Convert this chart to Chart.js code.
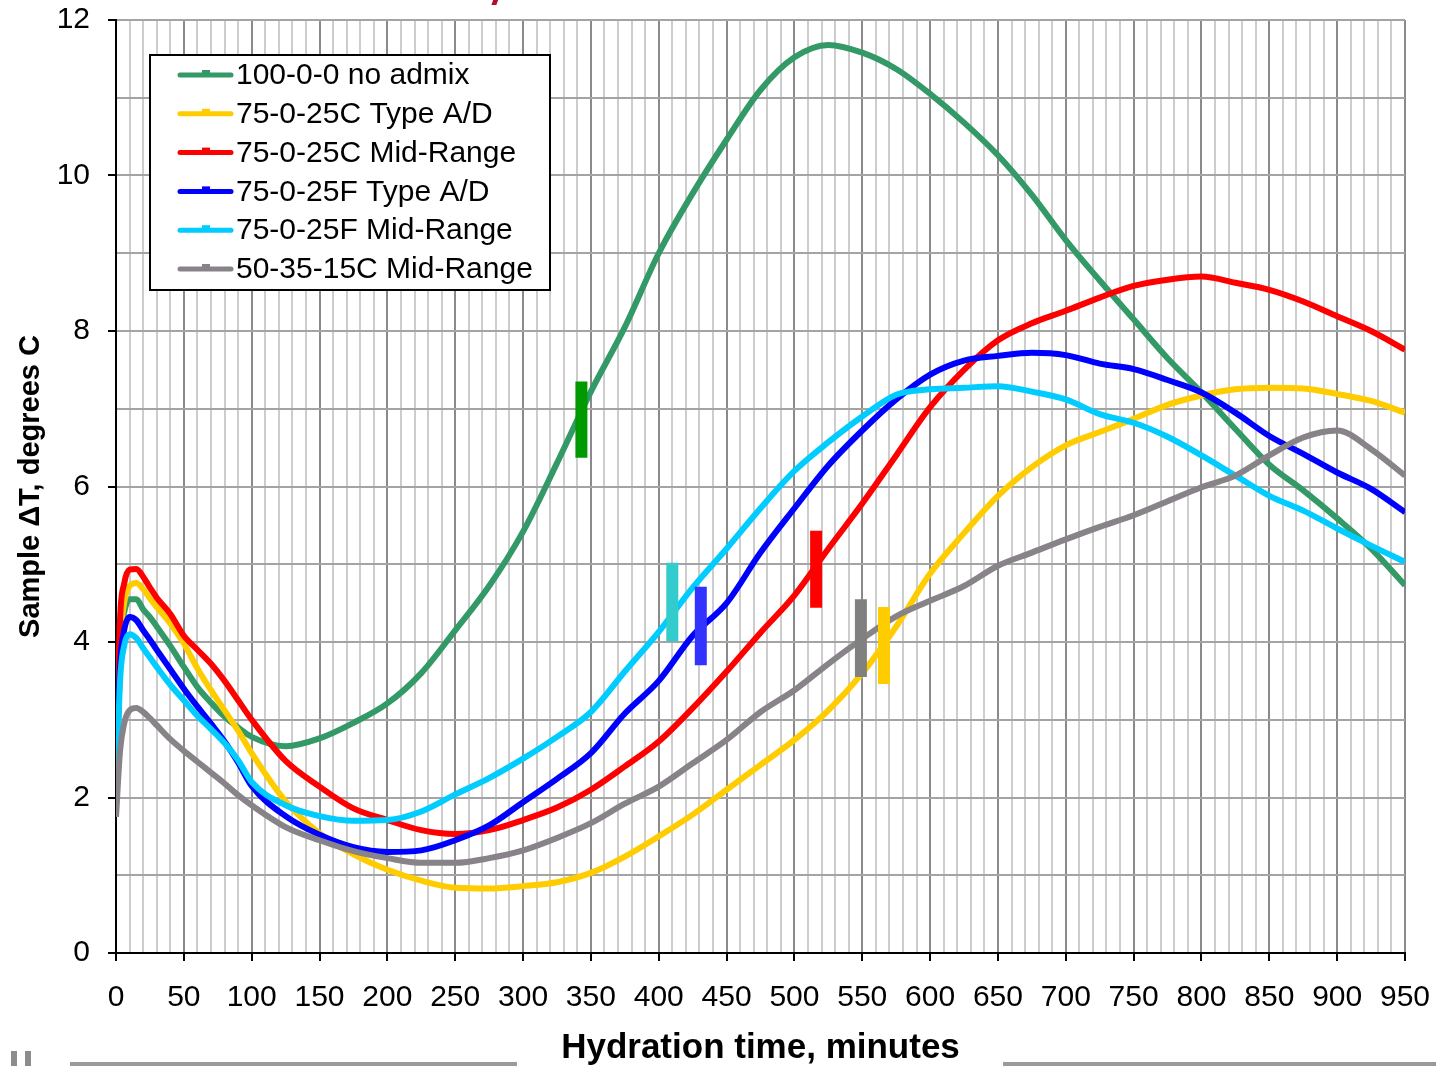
<!DOCTYPE html>
<html>
<head>
<meta charset="utf-8">
<title>Hydration temperature rise</title>
<script src="https://cdn.jsdelivr.net/npm/chart.js@4.4.1/dist/chart.umd.min.js"></script>
<style>
  html, body { margin: 0; padding: 0; background: #ffffff; }
  #wrap { position: relative; width: 1436px; height: 1066px; overflow: hidden; }
  #c { position: absolute; left: 0; top: 0; }
  .rule { position: absolute; top: 1062px; height: 4px; background: #9a9a9a; }
  .stub { position: absolute; top: 1051px; height: 15px; width: 6px; background: #8c8c8c; }
  .tick-mark { position: absolute; left: 493px; top: -4px; width: 5px; height: 9px; background: #b0102a; transform: skewX(-20deg); }
</style>
</head>
<body>
<div id="wrap">
  <canvas id="c" width="1436" height="1066"></canvas>
  <div class="tick-mark"></div>
  <div class="stub" style="left:11px"></div>
  <div class="stub" style="left:25px"></div>
  <div class="rule" style="left:70px; width:447px"></div>
  <div class="rule" style="left:1003px; width:433px"></div>
</div>
<script>
// Hydration time, minutes (shared sampling grid for every mix)
const minutes = [0, 3, 6, 10, 15, 20, 25, 30, 40, 50, 60, 70, 80, 90, 100,
  125, 150, 175, 200, 225, 250, 275, 300, 325, 350, 375, 400, 425, 450, 475, 500,
  525, 550, 575, 600, 625, 650, 675, 700, 725, 750, 775, 800, 825, 850, 875, 900, 925, 950];

// Sample temperature rise, degrees C
const noAdmix = [3.2, 4.0, 4.38, 4.55, 4.55, 4.42, 4.32, 4.2, 3.95, 3.68, 3.42, 3.22, 3.04, 2.9, 2.78,
  2.66, 2.76, 2.96, 3.21, 3.6, 4.15, 4.72, 5.42, 6.3, 7.22, 8.05, 9.0, 9.77, 10.46, 11.1, 11.52,
  11.68, 11.58, 11.37, 11.05, 10.68, 10.26, 9.75, 9.17, 8.65, 8.15, 7.65, 7.21, 6.74, 6.28, 5.95, 5.59, 5.2, 4.73];
const mixC_typeAD = [1.8, 3.9, 4.5, 4.72, 4.76, 4.68, 4.56, 4.45, 4.24, 3.98, 3.66, 3.38, 3.12, 2.86, 2.57,
  1.95, 1.54, 1.27, 1.07, 0.93, 0.84, 0.83, 0.86, 0.91, 1.03, 1.24, 1.5, 1.78, 2.1, 2.42, 2.74,
  3.12, 3.6, 4.2, 4.88, 5.4, 5.88, 6.25, 6.53, 6.7, 6.87, 7.05, 7.17, 7.25, 7.27, 7.26, 7.19, 7.1, 6.95];
const mixC_midRange = [2.3, 4.3, 4.75, 4.93, 4.94, 4.84, 4.7, 4.57, 4.36, 4.08, 3.9, 3.72, 3.5, 3.25, 3.0,
  2.47, 2.14, 1.86, 1.71, 1.58, 1.53, 1.58, 1.71, 1.87, 2.1, 2.4, 2.72, 3.15, 3.62, 4.12, 4.6,
  5.2, 5.78, 6.4, 7.02, 7.5, 7.88, 8.1, 8.26, 8.43, 8.58, 8.66, 8.7, 8.62, 8.53, 8.38, 8.19, 8.0, 7.76];
const mixF_typeAD = [2.1, 3.7, 4.15, 4.32, 4.28, 4.15, 4.03, 3.9, 3.65, 3.4, 3.17, 2.95, 2.72, 2.45, 2.15,
  1.76, 1.52, 1.36, 1.3, 1.32, 1.45, 1.64, 1.94, 2.24, 2.57, 3.08, 3.5, 4.08, 4.5, 5.15, 5.72,
  6.27, 6.72, 7.12, 7.44, 7.62, 7.68, 7.72, 7.69, 7.58, 7.51, 7.37, 7.21, 6.95, 6.65, 6.42, 6.18, 5.97, 5.67];
const mixF_midRange = [1.9, 3.5, 3.95, 4.1, 4.05, 3.92, 3.8, 3.68, 3.45, 3.25, 3.05, 2.88, 2.7, 2.48, 2.2,
  1.9, 1.76, 1.7, 1.71, 1.82, 2.04, 2.25, 2.5, 2.78, 3.1, 3.62, 4.13, 4.7, 5.2, 5.72, 6.2,
  6.57, 6.9, 7.18, 7.25, 7.27, 7.29, 7.22, 7.12, 6.93, 6.82, 6.64, 6.4, 6.14, 5.88, 5.69, 5.46, 5.24, 5.03];
const ternary_midRange = [1.75, 2.6, 2.95, 3.12, 3.15, 3.1, 3.02, 2.93, 2.75, 2.6, 2.46, 2.32, 2.18, 2.03, 1.9,
  1.62, 1.45, 1.31, 1.22, 1.16, 1.16, 1.22, 1.32, 1.48, 1.67, 1.92, 2.14, 2.44, 2.74, 3.1, 3.38,
  3.72, 4.04, 4.33, 4.53, 4.72, 4.98, 5.15, 5.32, 5.48, 5.63, 5.81, 5.99, 6.14, 6.4, 6.63, 6.72, 6.48, 6.14];

const seriesNames = ['100-0-0 no admix', '75-0-25C Type A/D', '75-0-25C Mid-Range',
  '75-0-25F Type A/D', '75-0-25F Mid-Range', '50-35-15C Mid-Range'];
const seriesValues = [noAdmix, mixC_typeAD, mixC_midRange, mixF_typeAD, mixF_midRange, ternary_midRange];

// Set-time bars: minute and the span of degrees each bar covers
const setTimeMinutes = [343, 410, 431, 516, 549, 566];
const setTimeLow = [6.37, 4.01, 3.70, 4.44, 3.55, 3.46];
const setTimeHigh = [7.35, 5.02, 4.71, 5.43, 4.55, 4.45];

// Axis tick labels
const xTickLabels = [0, 50, 100, 150, 200, 250, 300, 350, 400, 450, 500, 550, 600, 650, 700, 750, 800, 850, 900, 950];
const yTickLabels = [0, 2, 4, 6, 8, 10, 12];

const seriesColors = ['#339966', '#FFCC00', '#FF0000', '#0000FF', '#00CCFF', '#878388'];
const barColors = ['#009900', '#33CCCC', '#3333FF', '#FF0000', '#808080', '#FFCC00'];

const FONT = '"Liberation Sans", Arial, Helvetica, sans-serif';

const datasets = [];
seriesValues.forEach((vals, i) => {
  datasets.push({
    label: seriesNames[i],
    data: minutes.map((m, k) => ({ x: m, y: vals[k] })),
    borderColor: seriesColors[i],
    backgroundColor: seriesColors[i],
    borderWidth: 6,
    pointRadius: 0,
    cubicInterpolationMode: 'monotone',
    fill: false,
    order: 10 - i
  });
});
setTimeMinutes.forEach((m, i) => {
  datasets.push({
    label: 'set-' + i,
    data: [{ x: m, y: setTimeLow[i] }, { x: m, y: setTimeHigh[i] }],
    borderColor: barColors[i],
    borderWidth: 12,
    borderCapStyle: 'butt',
    pointRadius: 0,
    fill: false,
    order: 0
  });
});

// Boxed legend drawn inside the plot area
const insetLegend = {
  id: 'insetLegend',
  afterDatasetsDraw(chart) {
    const ctx = chart.ctx;
    ctx.save();
    ctx.fillStyle = '#ffffff';
    ctx.fillRect(150, 55, 400, 235);
    ctx.lineWidth = 2;
    ctx.strokeStyle = '#000000';
    ctx.strokeRect(150, 55, 400, 235);
    ctx.font = '30px ' + FONT;
    ctx.textBaseline = 'middle';
    ctx.textAlign = 'left';
    seriesNames.forEach((name, i) => {
      const cy = 75 + i * 38.8;
      ctx.strokeStyle = seriesColors[i];
      ctx.lineWidth = 5;
      ctx.lineCap = 'round';
      ctx.beginPath();
      ctx.moveTo(180, cy);
      ctx.lineTo(231, cy);
      ctx.stroke();
      ctx.fillStyle = seriesColors[i];
      ctx.fillRect(202, cy - 5, 8, 4);
      ctx.fillStyle = '#000000';
      ctx.fillText(name, 236, cy + 1);
    });
    ctx.restore();
  }
};

new Chart(document.getElementById('c'), {
  type: 'line',
  data: { datasets },
  plugins: [insetLegend],
  options: {
    responsive: false,
    animation: false,
    devicePixelRatio: 1,
    layout: { padding: { top: 20, right: 31, left: 0, bottom: 0 } },
    plugins: { legend: { display: false }, tooltip: { enabled: false } },
    scales: {
      x: {
        type: 'linear',
        min: 0,
        max: 950,
        afterFit(scale) {
          scale.height = 113;
          scale.paddingLeft = 0;
          scale.paddingRight = 0;
        },
        ticks: {
          stepSize: 10,
          autoSkip: false,
          maxRotation: 0,
          minRotation: 0,
          padding: 19,
          color: '#000000',
          font: { family: FONT, size: 30 },
          callback: (v) => (xTickLabels.includes(v) ? String(v) : '')
        },
        grid: {
          color: (c) => (c.tick && c.tick.value % 50 === 0 ? '#8a8a8a' : '#cdcdcd'),
          lineWidth: 2,
          tickLength: 8,
          tickWidth: 2,
          tickColor: (c) => (c.tick && c.tick.value % 50 === 0 ? '#000000' : 'rgba(0,0,0,0)')
        },
        border: { display: true, color: '#000000', width: 2 },
        title: {
          display: true,
          text: 'Hydration time, minutes',
          color: '#000000',
          font: { family: FONT, size: 35, weight: 'bold', lineHeight: 1 },
          padding: { top: 0, bottom: 0 }
        }
      },
      y: {
        min: 0,
        max: 12,
        afterFit(scale) {
          scale.width = 116;
          scale.paddingTop = 0;
          scale.paddingBottom = 0;
        },
        ticks: {
          stepSize: 1,
          padding: 18,
          color: '#000000',
          font: { family: FONT, size: 30 },
          callback: (v) => (yTickLabels.includes(v) ? String(v) : '')
        },
        grid: {
          color: '#a4a4a4',
          lineWidth: 2,
          tickLength: 8,
          tickWidth: 2,
          tickColor: (c) => (c.tick && c.tick.value % 2 === 0 ? '#000000' : 'rgba(0,0,0,0)')
        },
        border: { display: true, color: '#000000', width: 2 },
        title: {
          display: true,
          text: 'Sample \u0394T, degrees C',
          color: '#000000',
          font: { family: FONT, size: 29, weight: 'bold', lineHeight: 1 },
          padding: { top: 16, bottom: 0 }
        }
      }
    }
  }
});
</script>
</body>
</html>
